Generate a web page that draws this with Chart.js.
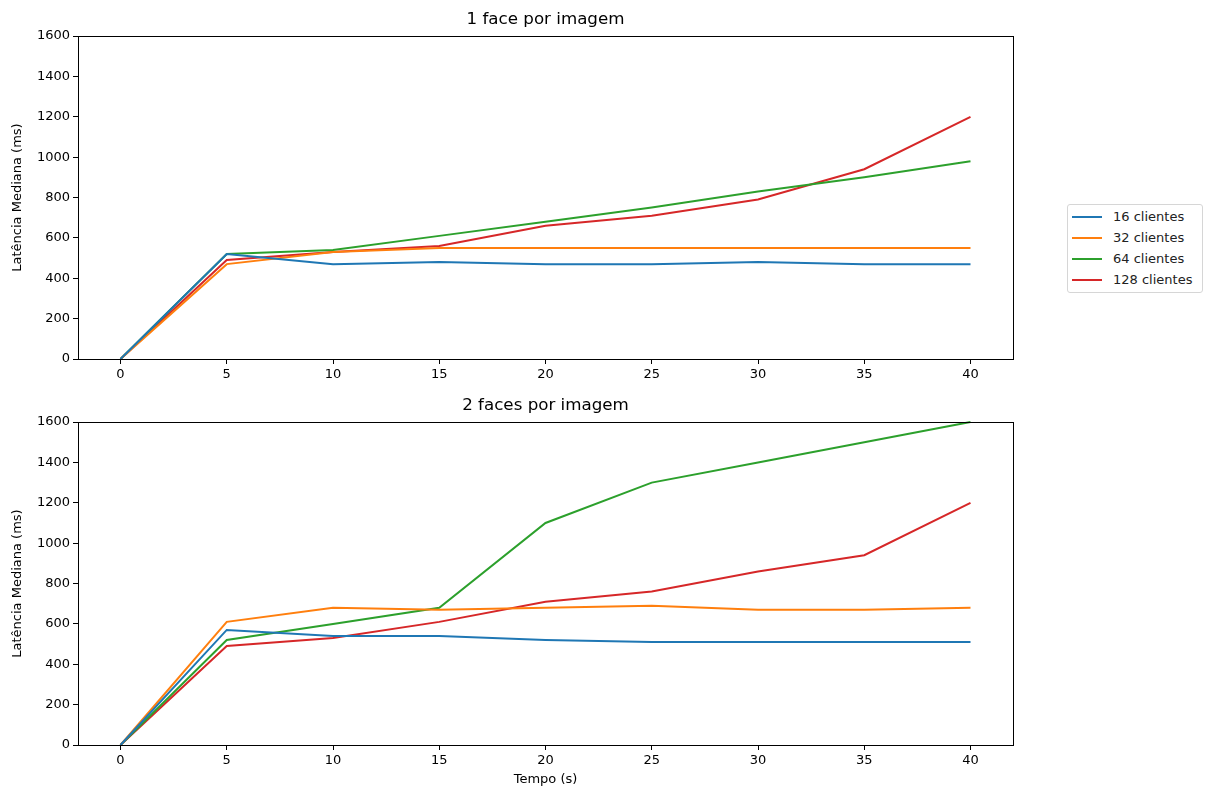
<!DOCTYPE html>
<html>
<head>
<meta charset="utf-8">
<script src="https://cdn.jsdelivr.net/npm/chart.js@4.4.0/dist/chart.umd.min.js"></script>
<style>
  html, body { margin: 0; padding: 0; background: #fff; }
  body { width: 1208px; height: 787px; position: relative; overflow: hidden; font-family: "DejaVu Sans", sans-serif; }
  .wrap { position: absolute; left: 0; width: 1030px; }
  #w1 { top: 0; height: 390px; }
  #w2 { top: 390px; height: 397px; }
  #legend { position: absolute; left: 1067px; top: 204px; width: 136px; height: 89px; border: 1px solid #d6d6d6; border-radius: 3px; box-sizing: border-box; padding: 1px 0 0 0; font-size: 13px; color: #222; background: rgba(255,255,255,0.8); }
  .row { height: 21px; display: flex; align-items: center; }
  .sw { width: 30px; height: 2px; margin-left: 4px; margin-right: 11px; }
</style>
</head>
<body>
<div class="wrap" id="w1"><canvas id="c1"></canvas></div>
<div class="wrap" id="w2"><canvas id="c2"></canvas></div>
<div id="legend"></div>
<script>
const times = [0, 5, 10, 15, 20, 25, 30, 35, 40];
const xTicks = [0, 5, 10, 15, 20, 25, 30, 35, 40];
const yTicks = [0, 200, 400, 600, 800, 1000, 1200, 1400, 1600];
const seriesNames = ["16 clientes", "32 clientes", "64 clientes", "128 clientes"];
const seriesColors = ["#1f77b4", "#ff7f0e", "#2ca02c", "#d62728"];

const titleTop = "1 face por imagem";
const titleBottom = "2 faces por imagem";
const yTitle = "Latência Mediana (ms)";
const xTitle = "Tempo (s)";

// 1 face por imagem
const top16  = [0, 520, 470, 480, 470, 470, 480, 470, 470];
const top32  = [0, 470, 530, 550, 550, 550, 550, 550, 550];
const top64  = [0, 520, 540, 610, 680, 750, 830, 900, 980];
const top128 = [0, 490, 530, 560, 660, 710, 790, 940, 1200];

// 2 faces por imagem
const bot16  = [0, 570, 540, 540, 520, 510, 510, 510, 510];
const bot32  = [0, 610, 680, 670, 680, 690, 670, 670, 680];
const bot64  = [0, 520, 600, 680, 1100, 1300, 1400, 1500, 1600];
const bot128 = [0, 490, 530, 610, 710, 760, 860, 940, 1200];

const FONT = "DejaVu Sans";
const TITLE_SIZE = 16.7;

function makeDatasets(arrs) {
  return arrs.map((arr, i) => ({
    label: seriesNames[i],
    data: arr.map((v, k) => ({ x: times[k], y: v })),
    borderColor: seriesColors[i],
    backgroundColor: seriesColors[i],
    borderWidth: 2,
    pointRadius: 0,
    tension: 0,
    fill: false,
    clip: 3
  }));
}

const boxPlugin = {
  id: 'box',
  afterDatasetsDraw(chart) {
    const a = chart.chartArea, ctx = chart.ctx;
    ctx.save();
    ctx.strokeStyle = '#000';
    ctx.lineWidth = 1;
    ctx.strokeRect(Math.round(a.left) + 0.5, Math.round(a.top) + 0.5, Math.round(a.right - a.left), Math.round(a.bottom - a.top));
    // title centred over the plot area
    const t = chart.options.plugins.title;
    ctx.fillStyle = '#000';
    ctx.font = TITLE_SIZE + 'px "' + FONT + '"';
    ctx.textAlign = 'center';
    ctx.textBaseline = 'middle';
    ctx.fillText(t.text, (a.left + a.right) / 2, t.padding.top + TITLE_SIZE * 1.2 / 2);
    ctx.restore();
  }
};

function makeChart(id, title, arrs, titlePad, xAxisH, showXTitle) {
  return new Chart(document.getElementById(id), {
    type: 'line',
    data: { datasets: makeDatasets(arrs) },
    plugins: [boxPlugin],
    options: {
      responsive: true,
      maintainAspectRatio: false,
      animation: false,
      layout: { padding: { left: 0, right: 17, top: 0, bottom: 0 } },
      plugins: {
        legend: { display: false },
        tooltip: { enabled: false },
        title: {
          display: true, text: title, color: 'rgba(0,0,0,0)',
          font: { family: FONT, size: TITLE_SIZE, weight: 'normal' },
          padding: titlePad
        }
      },
      scales: {
        x: {
          type: 'linear', min: -2, max: 42,
          afterBuildTicks: s => { s.ticks = xTicks.map(v => ({ value: v })); },
          afterFit: s => { s.height = xAxisH; },
          grid: { display: true, drawOnChartArea: false, drawTicks: true, tickLength: 5, tickColor: '#000' },
          border: { display: false },
          ticks: { color: '#000', font: { family: FONT, size: 13 }, padding: 3, maxRotation: 0, autoSkip: false, callback: v => String(v) },
          title: { display: showXTitle, text: xTitle, color: '#000', font: { family: FONT, size: 13 }, padding: { top: 5, bottom: 0 } }
        },
        y: {
          type: 'linear', min: 0, max: 1600,
          afterBuildTicks: s => { s.ticks = yTicks.map(v => ({ value: v })); },
          afterFit: s => { s.width = 78; },
          grid: { display: true, drawOnChartArea: false, drawTicks: true, tickLength: 5, tickColor: '#000' },
          border: { display: false },
          ticks: { color: '#000', font: { family: FONT, size: 13 }, padding: 3, autoSkip: false, callback: v => String(v) },
          title: { display: true, text: yTitle, color: '#000', font: { family: FONT, size: 13 }, padding: { top: 10, bottom: 4 } }
        }
      }
    }
  });
}

makeChart('c1', titleTop, [top16, top32, top64, top128], { top: 10, bottom: 6 }, 31, false);
makeChart('c2', titleBottom, [bot16, bot32, bot64, bot128], { top: 6, bottom: 6 }, 42, true);

const lg = document.getElementById('legend');
seriesNames.forEach((n, i) => {
  const r = document.createElement('div'); r.className = 'row';
  const s = document.createElement('span'); s.className = 'sw'; s.style.background = seriesColors[i];
  const t = document.createElement('span'); t.textContent = n;
  r.appendChild(s); r.appendChild(t); lg.appendChild(r);
});
</script>
</body>
</html>
